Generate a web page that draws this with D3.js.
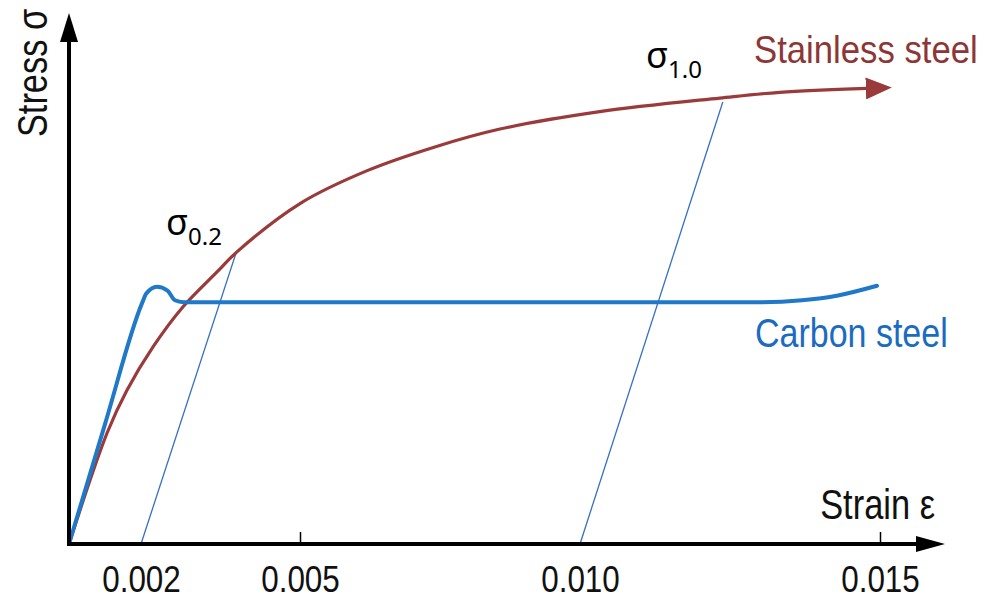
<!DOCTYPE html>
<html>
<meta charset="UTF-8">
<style>
/*	Style Definitions  */
body {
	margin: 0;
	background: white;
}

.axis-line {
	stroke: black;
	stroke-width: 4px;
	stroke-linecap: square;
}

.curve {
	fill: none;
	stroke-linejoin: round;
	stroke-linecap: round;
}

.proof {
	stroke: #3670c2;
	stroke-width: 1.3px;
}

.big {
	font-family: "Liberation Sans", Arial, sans-serif;
}

.sigma {
	font-family: "Noto Sans", "Open Sans", sans-serif;
	fill: black;
}
</style>
<svg width="984" height="601"></svg>
<script src="https://d3js.org/d3.v7.min.js"></script>
<script>
//	tick labels along the strain axis
var strainTicks = [0.002, 0.005, 0.010, 0.015];
var markedTicks = [0.005, 0.015];

//	carbon steel curve (strain, stress in MPa)
var carbonStrain = [0, 0.001, 0.00202, 0.0021, 0.0023, 0.0025, 0.00264, 0.0028, 0.005, 0.010, 0.0130, 0.0137, 0.0143, 0.01495];
var carbonStress = [0, 124, 249, 259, 266, 262, 252, 250, 250, 250, 250, 252, 257, 267];

//	stainless steel curve
var stainlessStrain = [0, 0.00106, 0.00161, 0.00223, 0.00279, 0.00343, 0.00381, 0.005, 0.0062, 0.00738, 0.00857, 0.01033, 0.01233, 0.01333, 0.01478];
var stainlessStress = [0, 115, 159, 204, 245, 281, 302, 352, 386, 410, 429, 447, 461, 467, 471];

//	proof stress offset lines
var proofNames = ["0.2", "1.0"];
var proofOffset = [0.002, 0.010];
var proofStrain = [0.0038, 0.01238];
var proofStress = [302, 457];

//	svg and sizing
var svg = d3.select("svg");

//	the strain axis of the sketch is not to scale, so piecewise
var x = d3.scaleLinear()
	.domain([0, 0.002, 0.005, 0.010, 0.015])
	.range([69, 141, 300, 580, 880]);

var y = d3.scaleLinear()
	.domain([0, 550])
	.range([544, 12]);

function makeLine(curve) {
	return d3.line()
		.x(function(d) { return x(d[0]); })
		.y(function(d) { return y(d[1]); })
		.curve(curve);
}

var carbon = carbonStrain.map(function(s, i) { return [s, carbonStress[i]]; });
var stainless = stainlessStrain.map(function(s, i) { return [s, stainlessStress[i]]; });

//	arrow marker for the stainless curve
svg.append("defs").append("marker")
	.attr("id", "redArrow")
	.attr("markerUnits", "userSpaceOnUse")
	.attr("viewBox", "0 0 26 22")
	.attr("markerWidth", 26)
	.attr("markerHeight", 22)
	.attr("refX", 1)
	.attr("refY", 11)
	.attr("orient", "auto")
	.append("path")
	.attr("d", "M0,0 L26,11 L0,22 Z")
	.attr("fill", "#9a3a3a");

//	proof lines (drawn under the curves)
proofNames.forEach(function(n, i) {
	svg.append("line")
		.attr("class", "proof")
		.attr("x1", x(proofOffset[i]))
		.attr("y1", y(0))
		.attr("x2", x(proofStrain[i]))
		.attr("y2", y(proofStress[i]));
});

//	curves
svg.append("path")
	.datum(stainless)
	.attr("class", "curve")
	.attr("stroke", "#9a3a3a")
	.attr("stroke-width", 3.2)
	.attr("marker-end", "url(#redArrow)")
	.attr("d", makeLine(d3.curveCatmullRom.alpha(0.5)));

svg.append("path")
	.datum(carbon)
	.attr("class", "curve")
	.attr("stroke", "#1f78c8")
	.attr("stroke-width", 4)
	.attr("d", makeLine(d3.curveMonotoneX));

//	x axis: labels and a few tick marks
var xAxis = svg.append("g")
	.attr("transform", "translate(0," + y(0) + ")")
	.call(d3.axisBottom(x)
		.tickValues(strainTicks)
		.tickFormat(d3.format(".3f"))
		.tickSize(-12));

xAxis.select(".domain").remove();
xAxis.selectAll(".tick line")
	.attr("stroke", "black")
	.attr("stroke-width", 1.5)
	.style("display", function(d) { return markedTicks.indexOf(d) < 0 ? "none" : null; });
xAxis.selectAll(".tick text")
	.attr("class", "big")
	.attr("y", 48)
	.attr("dy", null)
	.attr("fill", "#111")
	.attr("font-size", 37)
	.attr("transform", "scale(0.85,1)");

//	axis lines with arrow heads
svg.append("line")
	.attr("class", "axis-line")
	.attr("x1", x(0)).attr("y1", y(0))
	.attr("x2", 920).attr("y2", y(0));
svg.append("path")
	.attr("d", "M916," + (y(0) - 8) + " L945," + y(0) + " L916," + (y(0) + 8) + " Z")
	.attr("fill", "black");

svg.append("line")
	.attr("class", "axis-line")
	.attr("x1", x(0)).attr("y1", y(0))
	.attr("x2", x(0)).attr("y2", 40);
svg.append("path")
	.attr("d", "M" + (x(0) - 9) + ",42 L" + x(0) + ",13 L" + (x(0) + 9) + ",42 Z")
	.attr("fill", "black");

//	axis titles
svg.append("text")
	.attr("class", "big")
	.attr("text-anchor", "end")
	.attr("font-size", 42)
	.attr("fill", "#111")
	.attr("transform", "translate(935,519) scale(0.82,1)")
	.text("Strain ε");

svg.append("text")
	.attr("class", "big")
	.attr("text-anchor", "middle")
	.attr("font-size", 43)
	.attr("fill", "#111")
	.attr("transform", "translate(47,73) rotate(-90) scale(0.8,1)")
	.text("Stress σ");

//	series labels
svg.append("text")
	.attr("class", "big")
	.attr("font-size", 39)
	.attr("fill", "#8e3636")
	.attr("transform", "translate(754,63) scale(0.89,1)")
	.text("Stainless steel");

svg.append("text")
	.attr("class", "big")
	.attr("font-size", 40)
	.attr("fill", "#1b6cc0")
	.attr("transform", "translate(755,347) scale(0.85,1)")
	.text("Carbon steel");

//	proof stress labels
var sigmaPos = [[166, 235], [646, 68]];
proofNames.forEach(function(n, i) {
	var t = svg.append("text")
		.attr("class", "sigma")
		.attr("x", sigmaPos[i][0])
		.attr("y", sigmaPos[i][1])
		.attr("font-size", 36);
	t.append("tspan").text("σ");
	t.append("tspan")
		.attr("dy", 10)
		.attr("font-size", 24)
		.text(n);
});
</script>
</html>
